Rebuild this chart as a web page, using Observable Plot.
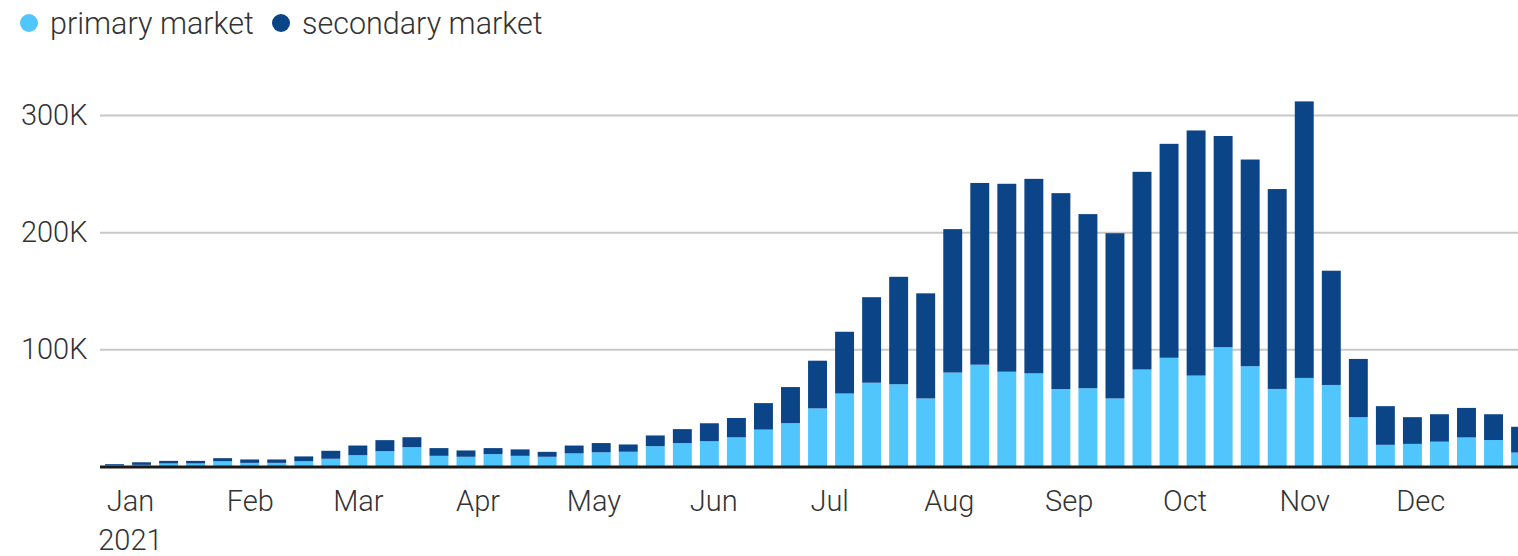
<!DOCTYPE html>
<html>
<head>
<meta charset="utf-8">
<script src="https://cdn.jsdelivr.net/npm/d3@7"></script>
<script src="https://cdn.jsdelivr.net/npm/@observablehq/plot@0.6"></script>
<style>
  html, body { margin: 0; padding: 0; background: #fff; overflow: hidden; }
  body { font-family: "Source Sans Pro", Roboto, "Open Sans", sans-serif; font-weight: 300; color: #333; }
  #legend { position: relative; height: 50px; width: 1518px; font-size: 30.5px; }
  .item { position: absolute; top: 5px; display: flex; align-items: center; height: 36px; }
  .dot { width: 18px; height: 18px; border-radius: 50%; margin-right: 12px; }
  #chart { width: 1518px; height: 506px; }
</style>
</head>
<body>
<div id="legend"></div>
<div id="chart"></div>
<script>
// ---- data ----
const weeks = [
  "2020-12-28","2021-01-04","2021-01-11","2021-01-18","2021-01-25","2021-02-01","2021-02-08","2021-02-15","2021-02-22",
  "2021-03-01","2021-03-08","2021-03-15","2021-03-22","2021-03-29","2021-04-05","2021-04-12","2021-04-19","2021-04-26",
  "2021-05-03","2021-05-10","2021-05-17","2021-05-24","2021-05-31","2021-06-07","2021-06-14","2021-06-21","2021-06-28",
  "2021-07-05","2021-07-12","2021-07-19","2021-07-26","2021-08-02","2021-08-09","2021-08-16","2021-08-23","2021-08-30",
  "2021-09-06","2021-09-13","2021-09-20","2021-09-27","2021-10-04","2021-10-11","2021-10-18","2021-10-25","2021-11-01",
  "2021-11-08","2021-11-15","2021-11-22","2021-11-29","2021-12-06","2021-12-13","2021-12-20","2021-12-27"
];
const primaryMarket = [
  1000, 1400, 2600, 2600, 4500, 3100, 3100, 4500, 6600, 9700, 13100, 16500, 9100, 8300, 10600, 9100, 8300, 11200,
  12100, 12600, 17400, 20000, 21600, 24900, 31500, 37000, 49600, 62300, 71500, 70200, 58100, 80200, 86900, 80900,
  79500, 66100, 66800, 58100, 82800, 92800, 77600, 101800, 85600, 66200, 75600, 69600, 42100, 18500, 19300, 21200,
  24800, 22600, 11900
];
const secondaryMarket = [
  1000, 2200, 2200, 2200, 2600, 2900, 2900, 4100, 6800, 8200, 9400, 8500, 6600, 5400, 5100, 5500, 4200, 6700,
  7900, 6200, 9100, 11900, 15300, 16500, 22600, 30800, 40700, 52700, 73000, 91700, 89700, 122400, 155100, 160400,
  166000, 167200, 148600, 141000, 168700, 182600, 209200, 180300, 176400, 170600, 236000, 97500, 49700, 33000, 22800, 23400,
  25200, 22000, 22000
];
const seriesNames = ["primary market", "secondary market"];
const monthTicks = ["2021-01-01","2021-02-01","2021-03-01","2021-04-01","2021-05-01","2021-06-01",
  "2021-07-01","2021-08-01","2021-09-01","2021-10-01","2021-11-01","2021-12-01"];
const monthLabels = ["Jan\n2021","Feb","Mar","Apr","May","Jun","Jul","Aug","Sep","Oct","Nov","Dec"];
const yTicks = [100000, 200000, 300000];

// ---- styles ----
const colors = ["#50c6fc", "#0b4487"];
const DAY = 864e5;
const half = 2.45 * DAY;
const font = '"Source Sans Pro", Roboto, "Open Sans", sans-serif';

// legend
const legend = document.getElementById("legend");
const legendLeft = [20, 272];
seriesNames.forEach((name, i) => {
  const it = document.createElement("div");
  it.className = "item";
  it.style.left = legendLeft[i] + "px";
  it.innerHTML = `<span class="dot" style="background:${colors[i]}"></span><span>${name}</span>`;
  legend.appendChild(it);
});

// table
const rows = weeks.map((w, i) => {
  const d = new Date(w + "T00:00:00Z");
  return {date: d, primary: primaryMarket[i], secondary: secondaryMarket[i]};
});
const tickDates = monthTicks.map(s => new Date(s + "T00:00:00Z"));
const labelOf = new Map(tickDates.map((d, i) => [+d, monthLabels[i]]));

const chart = Plot.plot({
  width: 1518,
  height: 506,
  marginLeft: 100,
  marginRight: 0,
  marginTop: 65,
  marginBottom: 89.5,
  style: {fontFamily: font, fontSize: "29px", fontWeight: 300, color: "#333", overflow: "hidden", background: "#fff"},
  x: {type: "utc", domain: [new Date("2020-12-24T06:00:00Z"), new Date("2021-12-26T08:00:00Z")], axis: null},
  y: {domain: [0, 300000], axis: null},
  marks: [
    Plot.ruleY(yTicks, {stroke: "#c8c8c8", strokeWidth: 2}),
    Plot.rect(rows, {x1: d => new Date(+d.date - half), x2: d => new Date(+d.date + half), y1: 0, y2: "primary", fill: colors[0]}),
    Plot.rect(rows, {x1: d => new Date(+d.date - half), x2: d => new Date(+d.date + half), y1: "primary", y2: d => d.primary + d.secondary, fill: colors[1]}),
    Plot.ruleY([0], {stroke: "#1a1a1a", strokeWidth: 3}),
    Plot.axisY(yTicks, {tickSize: 0, tickPadding: 13, tickFormat: d => d / 1000 + "K", fontSize: 29, fill: "#333", label: null}),
    Plot.axisX(tickDates, {tickSize: 0, tickPadding: 16, tickFormat: d => labelOf.get(+d), fontSize: 29, fill: "#333", lineHeight: 1.35, label: null, textAnchor: "middle"})
  ]
});
document.getElementById("chart").appendChild(chart);
</script>
</body>
</html>
